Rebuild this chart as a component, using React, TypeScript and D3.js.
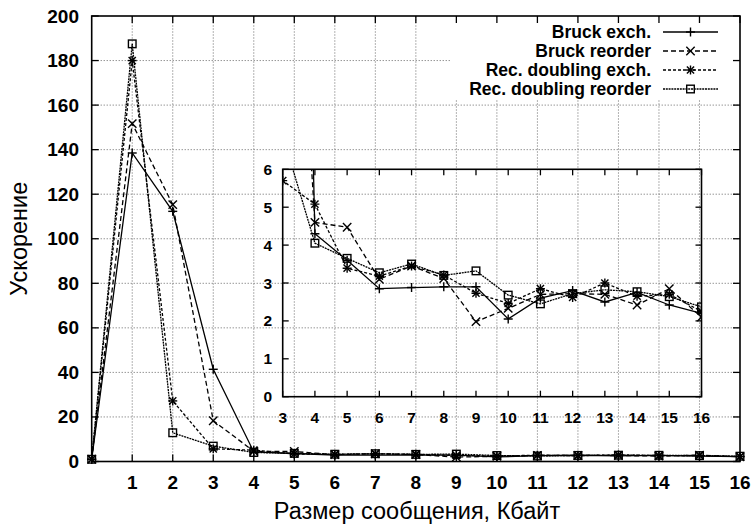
import React from "react";
import * as d3 from "d3";

const sizes = [0, 1, 2, 3, 4, 5, 6, 7, 8, 9, 10, 11, 12, 13, 14, 15, 16];
const bruckExch = [1, 138.5, 112.3, 41.4, 4.3, 3.6, 2.85, 2.88, 2.9, 2.9, 2.05, 2.6, 2.8, 2.5, 2.75, 2.42, 2.2];
const bruckReorder = [1, 151.7, 115.3, 18.3, 4.6, 4.47, 3.1, 3.45, 3.12, 1.98, 2.33, 2.7, 2.72, 2.7, 2.42, 2.85, 2.1];
const recDoublingExch = [1, 180, 27.2, 5.7, 5.08, 3.39, 3.18, 3.45, 3.21, 2.73, 2.46, 2.85, 2.62, 3.0, 2.65, 2.7, 2.25];
const recDoublingReorder = [1, 187.5, 12.9, 6.9, 4.05, 3.65, 3.27, 3.5, 3.2, 3.32, 2.68, 2.45, 2.72, 2.82, 2.77, 2.64, 2.37];

const seriesNames = ["Bruck exch.", "Bruck reorder", "Rec. doubling exch.", "Rec. doubling reorder"];
const mainYTicks = [0, 20, 40, 60, 80, 100, 120, 140, 160, 180, 200];
const mainXTicks = [1, 2, 3, 4, 5, 6, 7, 8, 9, 10, 11, 12, 13, 14, 15, 16];
const insetXTicks = [3, 4, 5, 6, 7, 8, 9, 10, 11, 12, 13, 14, 15, 16];
const insetYTicks = [0, 1, 2, 3, 4, 5, 6];
const xTitle = "Размер сообщения, Кбайт";
const yTitle = "Ускорение";

const W = 754, H = 527;
const FONT = "'Liberation Sans', Arial, sans-serif";

const seriesData = [bruckExch, bruckReorder, recDoublingExch, recDoublingReorder];
const markerTypes = ["plus", "cross", "star", "square"];
const dashes = [undefined, "5,3", "3,2", "2,0.8"];

function Marker({ type, cx, cy }: { type: string; cx: number; cy: number }) {
  const s = 4.5;
  const st = { stroke: "#000", strokeWidth: 1.4, fill: "none" } as any;
  if (type === "square") {
    return <rect x={cx - 3.8} y={cy - 3.8} width={7.6} height={7.6} {...st} />;
  }
  const parts: any[] = [];
  if (type === "plus" || type === "star") {
    parts.push(<line key="h" x1={cx - s} y1={cy} x2={cx + s} y2={cy} {...st} />);
    parts.push(<line key="v" x1={cx} y1={cy - s} x2={cx} y2={cy + s} {...st} />);
  }
  if (type === "cross" || type === "star") {
    const t = type === "star" ? 3.6 : 4.2;
    parts.push(<line key="d1" x1={cx - t} y1={cy - t} x2={cx + t} y2={cy + t} {...st} />);
    parts.push(<line key="d2" x1={cx - t} y1={cy + t} x2={cx + t} y2={cy - t} {...st} />);
  }
  return <g>{parts}</g>;
}

export default function App() {
  const x = d3.scaleLinear().domain([0, 16]).range([91.7, 740]);
  const y = d3.scaleLinear().domain([0, 200]).range([461.5, 16]);
  const ix = d3.scaleLinear().domain([3, 16]).range([282.7, 701.5]);
  const iy = d3.scaleLinear().domain([0, 6]).range([396.7, 169.3]);

  const mainLine = (vals: number[]) =>
    d3.line<number>().x((_, i) => x(sizes[i])).y((v) => y(v))(vals) || "";
  const insetLine = (vals: number[]) =>
    d3.line<number>().x((_, i) => ix(sizes[i])).y((v) => iy(v))(vals) || "";

  const gridStyle = { stroke: "#666", strokeWidth: 1, strokeDasharray: "1,2" };
  const [x0, x1] = x.range();
  const [y0, y1] = y.range();
  const [ix0, ix1] = ix.range();
  const [iy0, iy1] = iy.range();
  const tl = 7;
  const itl = 6;

  const legendRows = seriesNames.map((n, i) => ({ n, i, yy: 32 + i * 19 }));

  return (
    <svg width={W} height={H} style={{ position: "absolute", left: 0, top: 0, background: "#fff" }} fontFamily={FONT} fontWeight="bold">
      <rect x={0} y={0} width={W} height={H} fill="#fff" />
      <defs>
        <clipPath id="insetClip">
          <rect x={ix0} y={iy1} width={ix1 - ix0} height={iy0 - iy1} />
        </clipPath>
      </defs>
      {/* main grid */}
      {mainYTicks.filter((t) => t > 0 && t < 200).map((t) => (
        <line key={"gy" + t} x1={x0} x2={x1} y1={y(t)} y2={y(t)} {...gridStyle} />
      ))}
      {mainXTicks.filter((t) => t < 16).map((t) => (
        <line key={"gx" + t} x1={x(t)} x2={x(t)} y1={y0} y2={y1} {...gridStyle} />
      ))}
      {/* legend background */}
      <rect x={450} y={y1 + 1} width={x1 - 451} height={83} fill="#fff" />
      {/* main ticks */}
      {mainYTicks.map((t) => (
        <g key={"ty" + t}>
          <line x1={x0} x2={x0 + tl} y1={y(t)} y2={y(t)} stroke="#000" strokeWidth={1.3} />
          <line x1={x1} x2={x1 - tl} y1={y(t)} y2={y(t)} stroke="#000" strokeWidth={1.3} />
          <text x={79} y={y(t) + 6.5} textAnchor="end" fontSize={19}>{t}</text>
        </g>
      ))}
      {mainXTicks.map((t) => (
        <g key={"tx" + t}>
          <line x1={x(t)} x2={x(t)} y1={y0} y2={y0 - tl} stroke="#000" strokeWidth={1.3} />
          <line x1={x(t)} x2={x(t)} y1={y1} y2={y1 + tl} stroke="#000" strokeWidth={1.3} />
          <text x={x(t)} y={489} textAnchor="middle" fontSize={19}>{t}</text>
        </g>
      ))}
      <rect x={x0} y={y1} width={x1 - x0} height={y0 - y1} fill="none" stroke="#000" strokeWidth={1.6} />
      {/* main data */}
      {seriesData.map((vals, si) => (
        <g key={"m" + si}>
          <path d={mainLine(vals)} fill="none" stroke="#000" strokeWidth={1.3} strokeDasharray={dashes[si]} />
          {vals.map((v, i) => (
            <Marker key={i} type={markerTypes[si]} cx={x(sizes[i])} cy={y(v)} />
          ))}
        </g>
      ))}
      {/* inset */}
      {insetYTicks.map((t) => (
        <g key={"iy" + t}>
          <line x1={ix0} x2={ix0 + itl} y1={iy(t)} y2={iy(t)} stroke="#000" strokeWidth={1.3} />
          <line x1={ix1} x2={ix1 - itl} y1={iy(t)} y2={iy(t)} stroke="#000" strokeWidth={1.3} />
          <text x={272} y={iy(t) + 5.5} textAnchor="end" fontSize={15.5}>{t}</text>
        </g>
      ))}
      {insetXTicks.map((t) => (
        <g key={"ix" + t}>
          <line x1={ix(t)} x2={ix(t)} y1={iy0} y2={iy0 - itl} stroke="#000" strokeWidth={1.3} />
          <line x1={ix(t)} x2={ix(t)} y1={iy1} y2={iy1 + itl} stroke="#000" strokeWidth={1.3} />
          <text x={ix(t)} y={422.5} textAnchor="middle" fontSize={15.5}>{t}</text>
        </g>
      ))}
      <g clipPath="url(#insetClip)">
        {seriesData.map((vals, si) => (
          <g key={"i" + si}>
            <path d={insetLine(vals)} fill="none" stroke="#000" strokeWidth={1.3} strokeDasharray={dashes[si]} />
            {vals.map((v, i) =>
              sizes[i] >= 3 ? <Marker key={i} type={markerTypes[si]} cx={ix(sizes[i])} cy={iy(v)} /> : null
            )}
          </g>
        ))}
      </g>
      <rect x={ix0} y={iy1} width={ix1 - ix0} height={iy0 - iy1} fill="none" stroke="#000" strokeWidth={1.6} />
      {/* legend */}
      {legendRows.map(({ n, i, yy }) => (
        <g key={"l" + i}>
          <text x={651} y={yy + 6} textAnchor="end" fontSize={17.5}>{n}</text>
          <line x1={663} x2={718} y1={yy} y2={yy} stroke="#000" strokeWidth={1.3} strokeDasharray={dashes[i]} />
          <Marker type={markerTypes[i]} cx={690.5} cy={yy} />
        </g>
      ))}
      {/* titles */}
      <text x={417} y={519} textAnchor="middle" fontSize={23.5} fontWeight="normal">{xTitle}</text>
      <text transform={`translate(27,${(y0 + y1) / 2}) rotate(-90)`} textAnchor="middle" fontSize={23.5} fontWeight="normal">{yTitle}</text>
    </svg>
  );
}
